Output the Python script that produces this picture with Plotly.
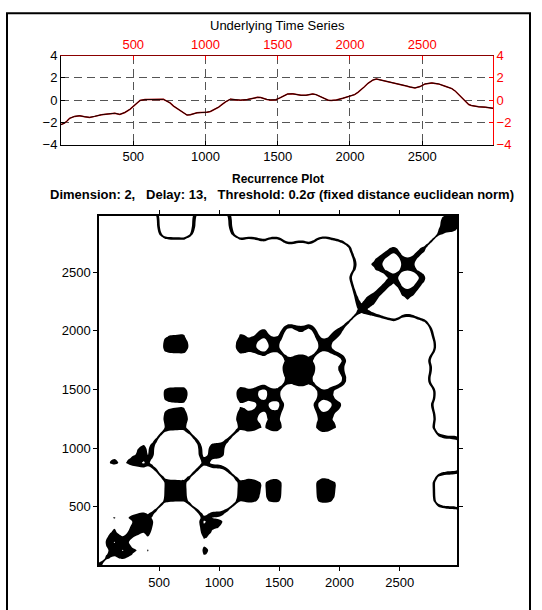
import numpy as np
import plotly.graph_objects as go

# ---- data (sample index, value) ----
t = [0, 24, 40, 59, 94, 129, 164, 198, 233, 280, 326, 373, 407, 442, 477, 512, 547, 581,
     616, 651, 686, 709, 732, 755, 779, 802, 825, 849, 872, 895, 918, 941, 965, 988, 1011,
     1034, 1069, 1092, 1104, 1139, 1173, 1208, 1243, 1289, 1336, 1360, 1382, 1400, 1425, 1452,
     1487, 1515, 1540, 1568, 1603, 1630, 1661, 1696, 1742, 1765, 1788, 1810, 1830, 1850,
     1870, 1905, 1951, 1997, 2015, 2032, 2055, 2079, 2100, 2125, 2145, 2160, 2183, 2218,
     2250, 2287, 2320, 2357, 2390, 2415, 2450, 2485, 2520, 2566, 2613, 2659, 2690, 2705,
     2730, 2752, 2770, 2787, 2805, 2822, 2840, 2857, 2891, 2938, 2965, 2990]
v = [-2.2, -2.07, -1.9, -1.64, -1.46, -1.40, -1.49, -1.55, -1.46, -1.31, -1.24, -1.18, -1.28,
     -1.11, -0.82, -0.38, -0.03, 0.05, 0.07, 0.08, 0.09, 0.07, -0.09, -0.25, -0.53, -0.75,
     -0.96, -1.18, -1.34, -1.31, -1.22, -1.14, -1.12, -1.11, -1.08, -1.02, -0.82, -0.62,
     -0.5, -0.15, 0.09, 0.07, 0.0, 0.05, 0.2, 0.25, 0.24, 0.15, 0.06, 0.02, 0.04, 0.2, 0.4,
     0.55, 0.57, 0.5, 0.44, 0.44, 0.56, 0.5, 0.37, 0.2, 0.07, -0.01, -0.03, 0.01, 0.17,
     0.32, 0.4, 0.5, 0.7, 0.93, 1.2, 1.52, 1.72, 1.82, 1.9, 1.8, 1.72, 1.64, 1.53, 1.4,
     1.28, 1.19, 1.1, 1.22, 1.46, 1.55, 1.46, 1.25, 1.1, 1.04, 0.8, 0.5, 0.28, 0.06, -0.2,
     -0.39, -0.48, -0.53, -0.6, -0.63, -0.66, -0.73]

x_ticks = [500, 1000, 1500, 2000, 2500]
y_ticks_ts = [-4, -2, 0, 2, 4]
rp_ticks = [500, 1000, 1500, 2000, 2500]

dimension = 2
delay = 13
threshold_factor = 0.2

# ---- recurrence (fixed distance, euclidean norm ~ sqrt(dim)*|dx| for slow series) ----
va = np.array(v, dtype=float)
sigma = va.std()
eps = threshold_factor * sigma / np.sqrt(dimension)
D = va[None, :] - va[:, None]   # row j (y) , column i (x)

W, H = 542, 610
def fx(p):
    return p / W
def fy(p):
    return 1 - p / H

FONT = "Liberation Sans, Arial, sans-serif"

fig = go.Figure()
# red under-line on base axes, black line on top axes
fig.add_trace(go.Scatter(x=t, y=v, xaxis="x", yaxis="y", mode="lines",
                         line=dict(color="#c00000", width=1.5), hoverinfo="skip", showlegend=False))
fig.add_trace(go.Scatter(x=t, y=v, xaxis="x2", yaxis="y2", mode="lines",
                         line=dict(color="#140000", width=1.0), hoverinfo="skip", showlegend=False))

fig.add_trace(go.Contour(x=t, y=t, z=D.tolist(), xaxis="x3", yaxis="y3",
                         contours=dict(type="constraint", operation=")(", value=[-eps, eps]),
                         fillcolor="black", line=dict(width=0, color="black"),
                         showscale=False, hoverinfo="skip", showlegend=False))

ts_x_dom = [fx(61), fx(493)]
ts_y_dom = [fy(141.1), fy(49.9)]
rp_x_dom = [fx(99), fx(457)]
rp_y_dom = [fy(572.5), fy(214.3)]

grid = dict(showgrid=True, gridcolor="#555555", gridwidth=1, griddash="8px,5px")

fig.update_layout(
    width=W, height=H, margin=dict(l=0, r=0, t=0, b=0),
    paper_bgcolor="white", plot_bgcolor="white",
    font=dict(family=FONT, size=13, color="black"),
    showlegend=False,
    xaxis=dict(domain=ts_x_dom, range=[0, 2990], anchor="y", tickvals=x_ticks,
               ticks="inside", ticklen=4, tickcolor="black", showline=True, linecolor="black",
               linewidth=1, zeroline=False, tickfont=dict(size=13, color="black"), **grid),
    yaxis=dict(domain=ts_y_dom, range=[-4, 4], anchor="x", tickvals=y_ticks_ts,
               ticks="inside", ticklen=4, tickcolor="black", showline=True, linecolor="black",
               linewidth=1, zeroline=False, tickfont=dict(size=13, color="black"), **grid),
    xaxis2=dict(overlaying="x", side="top", anchor="y2", range=[0, 2990], tickvals=x_ticks,
                ticks="inside", ticklen=4, tickcolor="red", showline=True, linecolor="#8b0000",
                linewidth=1, showgrid=False, zeroline=False, tickfont=dict(size=13, color="red")),
    yaxis2=dict(overlaying="y", side="right", anchor="x2", range=[-4, 4], tickvals=y_ticks_ts,
                ticks="inside", ticklen=4, tickcolor="red", showline=True, linecolor="red",
                linewidth=1, showgrid=False, zeroline=False, tickfont=dict(size=13, color="red")),
    xaxis3=dict(domain=rp_x_dom, range=[0, 2977], anchor="y3", tickvals=rp_ticks,
                ticks="outside", ticklen=4, tickcolor="black", showline=True, linecolor="black",
                linewidth=1.5, mirror="ticks", showgrid=False, zeroline=False,
                tickfont=dict(size=13, color="black")),
    yaxis3=dict(domain=rp_y_dom, range=[0, 2977], anchor="x3", tickvals=rp_ticks,
                ticks="outside", ticklen=4, tickcolor="black", showline=True, linecolor="black",
                linewidth=1.5, mirror="ticks", showgrid=False, zeroline=False,
                tickfont=dict(size=13, color="black")),
    annotations=[
        dict(text="Underlying Time Series", x=fx(277), y=fy(19), xref="paper", yref="paper",
             showarrow=False, xanchor="center", yanchor="middle", font=dict(size=13)),
        dict(text="<b>Recurrence Plot</b>", x=fx(278), y=fy(176), xref="paper", yref="paper",
             showarrow=False, xanchor="center", yanchor="middle", font=dict(size=12)),
        dict(text="<b>Dimension: 2,\u00a0\u00a0 Delay: 13,\u00a0\u00a0 Threshold: 0.2σ (fixed distance euclidean norm)</b>",
             x=fx(282), y=fy(192), xref="paper", yref="paper",
             showarrow=False, xanchor="center", yanchor="middle", font=dict(size=13)),
    ],
    shapes=[dict(type="rect", xref="paper", yref="paper", x0=fx(7), x1=fx(530),
                 y0=fy(660), y1=fy(6.5), line=dict(color="black", width=2))],
)

fig.write_html("out.html")
